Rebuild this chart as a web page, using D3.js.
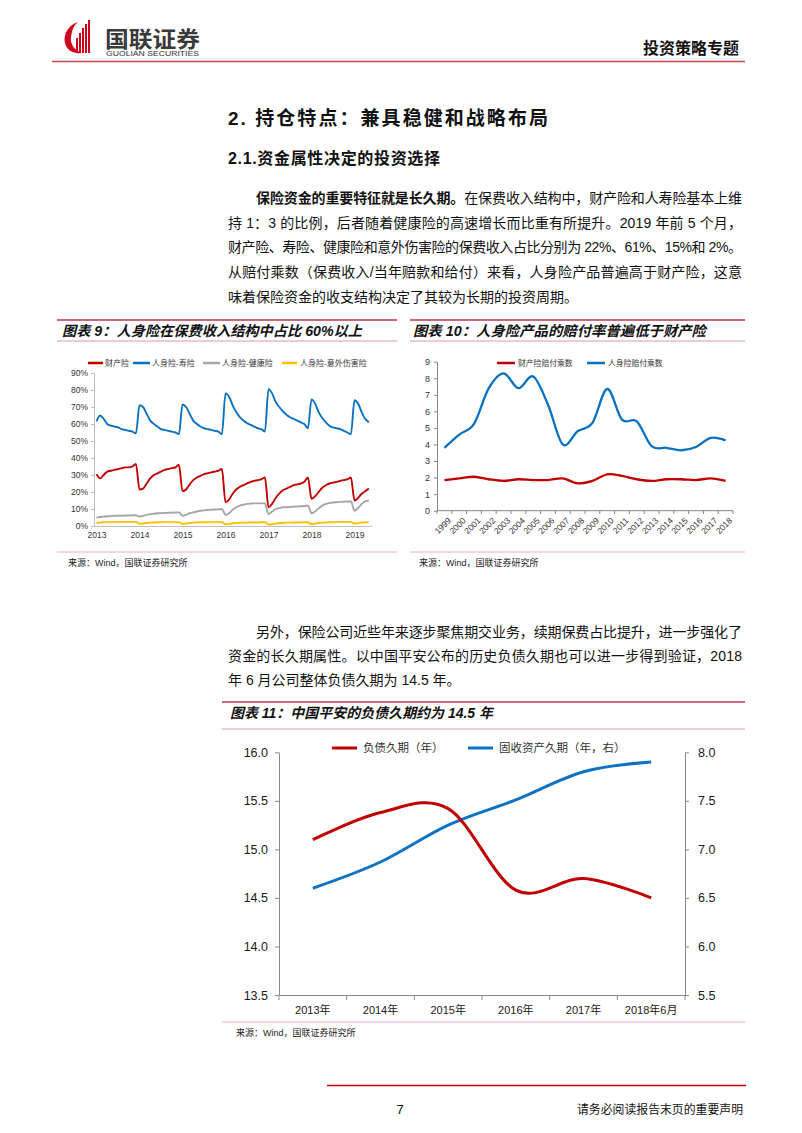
<!DOCTYPE html>
<html><head><meta charset="utf-8">
<script src="https://cdn.jsdelivr.net/npm/d3@7"></script>
<style>
body{margin:0;background:#fff}
svg{display:block}
text{font-family:"Liberation Sans","Noto Sans CJK SC",sans-serif}
</style>
</head><body>
<svg id="c" width="802" height="1133"></svg>
<script>
// ---------- Chart 9 data (monthly YTD share, %) ----------
const years9 = ["2013","2014","2015","2016","2017","2018","2019"];
const yTicks9 = [0,10,20,30,40,50,60,70,80,90];
const prop9 = [
30.5,28,30,32,32.5,33,33.5,34,34.5,34.5,35,36.5,
21.5,22,25,28,30,31,32,33,33.5,34,34.5,36,
20.5,21.5,24.5,27,28.5,29.5,30.5,31,31.5,32,32.5,33.5,
14,15.5,19,21.5,23,24,25,26,26.5,27,27.5,28.5,
11,13,16.5,19,21,22,23,24,24.5,25,26,28.5,
16,17.5,20,22.5,24,25,25.5,26,26.5,27,27.5,28.5,
15,16.5,19,20.5,22];
const life9 = [
61.5,65,63,60,59,58.5,58,57,56.5,56,55.5,54.5,
71,70,66,62,60,58.5,57,56.5,56,55.5,55,54,
71.5,70,66,62,60,58.5,57.5,57,56.5,56,55.5,54,
78,76,71,67,64,62,60.5,59.5,58.5,57.5,57,55.5,
80.5,78,73,70,67.5,65.5,64,63,62,61,60,57.5,
74.5,72,67,63.5,61,59,58,57.5,57,56,55,54,
74,72,67,63,61];
const health9 = [
5,5.3,5.5,5.7,5.8,6,6,6.1,6.2,6.2,6.3,6.3,
5.5,6,6.5,7,7.2,7.5,7.6,7.7,7.8,7.8,7.9,8,
6,6.5,7.5,8,8.5,9,9.2,9.4,9.6,9.7,9.8,10,
6.5,7.5,9.5,11,12,12.5,13,13.2,13.3,13.3,13.3,13.3,
7,8.5,10,10.5,11,11,11.2,11.3,11.5,11.6,11.8,12,
7.5,8.5,10.5,12,13,13.5,13.8,14,14.2,14.3,14.4,14.5,
9,10.5,13,14.5,15];
const acc9 = [
1.8,2,2.2,2.3,2.3,2.4,2.4,2.4,2.4,2.4,2.4,2.4,
1.3,1.5,1.8,2,2.1,2.2,2.2,2.3,2.3,2.3,2.3,2.3,
1.2,1.5,1.8,2,2.1,2.2,2.2,2.2,2.3,2.3,2.3,2.3,
1,1.3,1.6,1.8,1.9,2,2,2.1,2.1,2.1,2.2,2.2,
0.8,1.1,1.5,1.7,1.9,2,2,2.1,2.1,2.1,2.2,2.2,
1.2,1.4,1.8,2,2.1,2.2,2.3,2.3,2.3,2.4,2.4,2.4,
1.5,1.7,2,2.2,2.3];
const names9 = ["财产险","人身险-寿险","人身险-健康险","人身险-意外伤害险"];

// ---------- Chart 10 data ----------
const years10 = ["1999","2000","2001","2002","2003","2004","2005","2006","2007","2008","2009","2010","2011","2012","2013","2014","2015","2016","2017","2018"];
const yTicks10 = [0,1,2,3,4,5,6,7,8,9];
const prop10 = [1.85,1.95,2.05,1.9,1.8,1.9,1.85,1.85,1.95,1.65,1.8,2.2,2.1,1.9,1.8,1.9,1.9,1.85,1.95,1.8];
const life10 = [3.8,4.6,5.25,7.4,8.3,7.4,8.1,6.4,4.0,4.8,5.3,7.35,5.5,5.4,3.9,3.8,3.65,3.85,4.4,4.25];
const names10 = ["财产险赔付乘数","人身险赔付乘数"];

// ---------- Chart 11 data ----------
const cats11 = ["2013年","2014年","2015年","2016年","2017年","2018年6月"];
const liab11 = [15.1,15.38,15.42,14.58,14.7,14.5];
const asset11 = [6.6,6.87,7.25,7.51,7.8,7.9];
const leftTicks11 = [13.5,14.0,14.5,15.0,15.5,16.0];
const rightTicks11 = [5.5,6.0,6.5,7.0,7.5,8.0];
const names11 = ["负债久期（年）","固收资产久期（年，右）"];

const RED = "#c00000", BLUE = "#0a70c0", GRAY = "#a6a6a6", YEL = "#ffc000";

const svg = d3.select("#c");
svg.append("rect").attr("width",802).attr("height",1133).attr("fill","#fff");

// ---------- Header ----------
const logo = svg.append("g");
logo.append("path").attr("d","M78,22 C66,26 62,38 66,46 C69,52 76,54 82,53 C74,50 70,44 71,37 C72,30 74,25 78,22 Z").attr("fill","#d0021b");
[[76,38],[79,33],[82,28],[85,24],[88,20]].forEach(([x,t])=>{
  logo.append("rect").attr("x",x).attr("y",t).attr("width",2).attr("height",53-t).attr("fill","#d0021b");
});
svg.append("text").attr("x",105).attr("y",47).attr("font-size",22).attr("font-weight",700)
  .attr("fill","#3a3a3a").attr("textLength",95).attr("lengthAdjust","spacingAndGlyphs").text("国联证券");
svg.append("text").attr("x",106).attr("y",56).attr("font-size",6.5).attr("fill","#333")
  .attr("textLength",93).attr("lengthAdjust","spacingAndGlyphs").text("GUOLIAN SECURITIES");
svg.append("text").attr("x",643).attr("y",54).attr("font-size",16).attr("font-weight",700)
  .attr("fill","#111").text("投资策略专题");
svg.append("line").attr("x1",52).attr("x2",745).attr("y1",61.5).attr("y2",61.5).attr("stroke","#c7464f").attr("stroke-width",1.3);

// ---------- Body text ----------
function textLine(x, y, parts, size, width, weight){
  const t = svg.append("text").attr("x",x).attr("y",y).attr("font-size",size).attr("fill","#111");
  if (weight) t.attr("font-weight",weight);
  parts.forEach(p=>{ t.append("tspan").attr("font-weight", p[1]?700:null).text(p[0]); });
  if (width) t.attr("textLength",width).attr("lengthAdjust","spacing");
  return t;
}
textLine(228,125,[["2.  持仓特点：兼具稳健和战略布局",false]],19,320,700);
textLine(228,164,[["2.1.资金属性决定的投资选择",false]],16,212,700);
textLine(256,203,[["保险资金的重要特征就是长久期。",true],["在保费收入结构中，财产险和人寿险基本上维",false]],14,486);
textLine(228,228,[["持 1：3 的比例，后者随着健康险的高速增长而比重有所提升。2019 年前 5 个月，",false]],14,514);
textLine(228,252,[["财产险、寿险、健康险和意外伤害险的保费收入占比分别为 22%、61%、15%和 2%。",false]],14,514);
textLine(228,277,[["从赔付乘数（保费收入/当年赔款和给付）来看，人身险产品普遍高于财产险，这意",false]],14,514);
textLine(228,302,[["味着保险资金的收支结构决定了其较为长期的投资周期。",false]],14,null);
textLine(256,637,[["另外，保险公司近些年来逐步聚焦期交业务，续期保费占比提升，进一步强化了",false]],14,486);
textLine(228,661,[["资金的长久期属性。以中国平安公布的历史负债久期也可以进一步得到验证，2018",false]],14,514);
textLine(228,685,[["年 6 月公司整体负债久期为 14.5 年。",false]],14,null);

// ---------- Chart frames ----------
function frame(x1,x2,yTop,yUnder,ySrc,title,titleW,srcX){
  svg.append("line").attr("x1",x1).attr("x2",x2).attr("y1",yTop).attr("y2",yTop).attr("stroke","#b9374f").attr("stroke-width",1.4);
  svg.append("line").attr("x1",x1).attr("x2",x2).attr("y1",yUnder).attr("y2",yUnder).attr("stroke","#d99aa8").attr("stroke-width",1);
  svg.append("line").attr("x1",x1).attr("x2",x2).attr("y1",ySrc).attr("y2",ySrc).attr("stroke","#e2b2bd").attr("stroke-width",1);
  svg.append("text").attr("x",srcX).attr("y",yTop+16).attr("font-size",14).attr("font-weight",700)
    .attr("font-style","italic").attr("fill","#111").attr("textLength",titleW).attr("lengthAdjust","spacingAndGlyphs").text(title);
  svg.append("text").attr("x",srcX+6).attr("y",ySrc+14).attr("font-size",9).attr("fill","#222").text("来源：Wind，国联证券研究所");
}
frame(57,397,320,341,552,"图表 9：人身险在保费收入结构中占比 60%以上",300,62);
frame(410,745,320,341,552,"图表 10：人身险产品的赔付率普遍低于财产险",293,413);
frame(222,745,702,729,1022,"图表 11：中国平安的负债久期约为 14.5 年",263,230);

// ---------- Chart 9 ----------
const x9 = d3.scaleLinear().domain([0,72]).range([96.5,354.5]);
const y9 = d3.scaleLinear().domain([0,90]).range([526,373]);
const g9 = svg.append("g");
g9.append("g").attr("transform","translate(94,0)")
  .call(d3.axisLeft(y9).tickValues(yTicks9).tickFormat(d=>d+"%").tickSize(3).tickSizeOuter(0).tickPadding(3))
  .call(g=>{g.select(".domain").attr("stroke","#bfbfbf");g.selectAll(".tick line").attr("stroke","#bfbfbf");
    g.selectAll("text").attr("font-size",8.5).attr("fill","#333").attr("font-family","Liberation Sans");});
g9.append("line").attr("x1",94).attr("x2",372).attr("y1",526.5).attr("y2",526.5).attr("stroke","#bfbfbf");
g9.append("g").attr("transform","translate(0,526.5)")
  .call(d3.axisBottom(x9).tickValues(years9.map((d,i)=>i*12)).tickFormat((d,i)=>years9[i]).tickSize(0).tickPadding(5))
  .call(g=>{g.select(".domain").remove();g.selectAll("text").attr("font-size",8.5).attr("fill","#333").attr("font-family","Liberation Sans");});
const line9 = d3.line().x((d,i)=>x9(i)).y(d=>y9(d)).curve(d3.curveMonotoneX);
[[acc9,YEL],[health9,GRAY],[prop9,RED],[life9,BLUE]].forEach(([s,c])=>{
  g9.append("path").attr("d",line9(s)).attr("fill","none").attr("stroke",c).attr("stroke-width",1.9).attr("stroke-linejoin","round");
});
const leg9 = [[88,103,105,RED],[133,150,152,BLUE],[203,220,222,GRAY],[282,297,300,YEL]];
leg9.forEach(([a,b,t,c],i)=>{
  g9.append("line").attr("x1",a).attr("x2",b).attr("y1",363).attr("y2",363).attr("stroke",c).attr("stroke-width",2.5);
  g9.append("text").attr("x",t).attr("y",366).attr("font-size",8).attr("fill","#333").text(names9[i]);
});

// ---------- Chart 10 ----------
const x10 = d3.scaleBand().domain(years10).range([437,733]);
const y10 = d3.scaleLinear().domain([0,9]).range([510.7,361.7]);
const g10 = svg.append("g");
g10.append("g").attr("transform","translate(437,0)")
  .call(d3.axisLeft(y10).tickValues(yTicks10).tickSize(3).tickSizeOuter(0).tickPadding(4))
  .call(g=>{g.select(".domain").attr("stroke","#868686");g.selectAll(".tick line").attr("stroke","#868686");
    g.selectAll("text").attr("font-size",9).attr("fill","#333").attr("font-family","Liberation Sans");});
g10.append("line").attr("x1",437).attr("x2",733).attr("y1",510.7).attr("y2",510.7).attr("stroke","#868686");
years10.concat([null]).forEach((d,i)=>{
  const xx = d===null ? 733 : x10(d);
  g10.append("line").attr("x1",xx).attr("x2",xx).attr("y1",510.7).attr("y2",514).attr("stroke","#868686");
});
years10.forEach(d=>{
  const cx = x10(d)+x10.bandwidth()/2 + 3;
  g10.append("text").attr("transform",`translate(${cx},517) rotate(-45)`).attr("text-anchor","end")
    .attr("dy","0.7em").attr("font-size",8.5).attr("fill","#333").text(d);
});
const line10 = d3.line().x((d,i)=>x10(years10[i])+x10.bandwidth()/2).y(d=>y10(d)).curve(d3.curveCardinal.tension(0));
[[prop10,RED],[life10,BLUE]].forEach(([s,c])=>{
  g10.append("path").attr("d",line10(s)).attr("fill","none").attr("stroke",c).attr("stroke-width",2.3);
});
[[497,515,518,RED],[587,605,608,BLUE]].forEach(([a,b,t,c],i)=>{
  g10.append("line").attr("x1",a).attr("x2",b).attr("y1",363).attr("y2",363).attr("stroke",c).attr("stroke-width",2.5);
  g10.append("text").attr("x",t).attr("y",366).attr("font-size",7.8).attr("fill","#333").text(names10[i]);
});

// ---------- Chart 11 ----------
const x11 = d3.scaleBand().domain(cats11).range([279,685]);
const yL = d3.scaleLinear().domain([13.5,16]).range([995,752.3]);
const yR = d3.scaleLinear().domain([5.5,8]).range([995,752.3]);
const g11 = svg.append("g");
const styleAx = g=>{g.select(".domain").attr("stroke","#898989");g.selectAll(".tick line").attr("stroke","#898989");
  g.selectAll("text").attr("font-size",12.5).attr("fill","#1a1a1a").attr("font-family","Liberation Sans");};
g11.append("g").attr("transform","translate(279,0)")
  .call(d3.axisLeft(yL).tickValues(leftTicks11).tickFormat(d3.format(".1f")).tickSize(4).tickSizeOuter(0).tickPadding(7)).call(styleAx);
g11.append("g").attr("transform","translate(685,0)")
  .call(d3.axisRight(yR).tickValues(rightTicks11).tickFormat(d3.format(".1f")).tickSize(4).tickSizeOuter(0).tickPadding(9)).call(styleAx);
g11.append("g").attr("transform","translate(0,995)")
  .call(d3.axisBottom(x11).tickSize(0).tickSizeOuter(0).tickPadding(11))
  .call(g=>{g.select(".domain").attr("stroke","#898989");
    g.selectAll("text").attr("font-size",11).attr("fill","#1a1a1a");});
cats11.concat([null]).forEach(d=>{
  const xx = d===null ? 685 : x11(d);
  g11.append("line").attr("x1",xx).attr("x2",xx).attr("y1",995).attr("y2",1000).attr("stroke","#898989");
});
const cx11 = (d,i)=>x11(cats11[i])+x11.bandwidth()/2;
g11.append("path").attr("d",d3.line().x(cx11).y(d=>yR(d)).curve(d3.curveCardinal.tension(0))(asset11))
  .attr("fill","none").attr("stroke","#0e72c4").attr("stroke-width",3);
g11.append("path").attr("d",d3.line().x(cx11).y(d=>yL(d)).curve(d3.curveCardinal.tension(0))(liab11))
  .attr("fill","none").attr("stroke",RED).attr("stroke-width",3);
[[332,357,363,RED],[468,493,499,"#0e72c4"]].forEach(([a,b,t,c],i)=>{
  g11.append("line").attr("x1",a).attr("x2",b).attr("y1",748).attr("y2",748).attr("stroke",c).attr("stroke-width",3);
  g11.append("text").attr("x",t).attr("y",752).attr("font-size",11.5).attr("fill","#333").text(names11[i]);
});

// ---------- Footer ----------
svg.append("line").attr("x1",327).attr("x2",746).attr("y1",1085.5).attr("y2",1085.5).attr("stroke","#c00000").attr("stroke-width",1.5);
svg.append("text").attr("x",400).attr("y",1114).attr("text-anchor","middle").attr("font-size",13).attr("fill","#111").text("7");
svg.append("text").attr("x",577).attr("y",1114).attr("font-size",12).attr("fill","#111")
  .attr("textLength",166).attr("lengthAdjust","spacingAndGlyphs").text("请务必阅读报告末页的重要声明");
</script>
</body></html>
